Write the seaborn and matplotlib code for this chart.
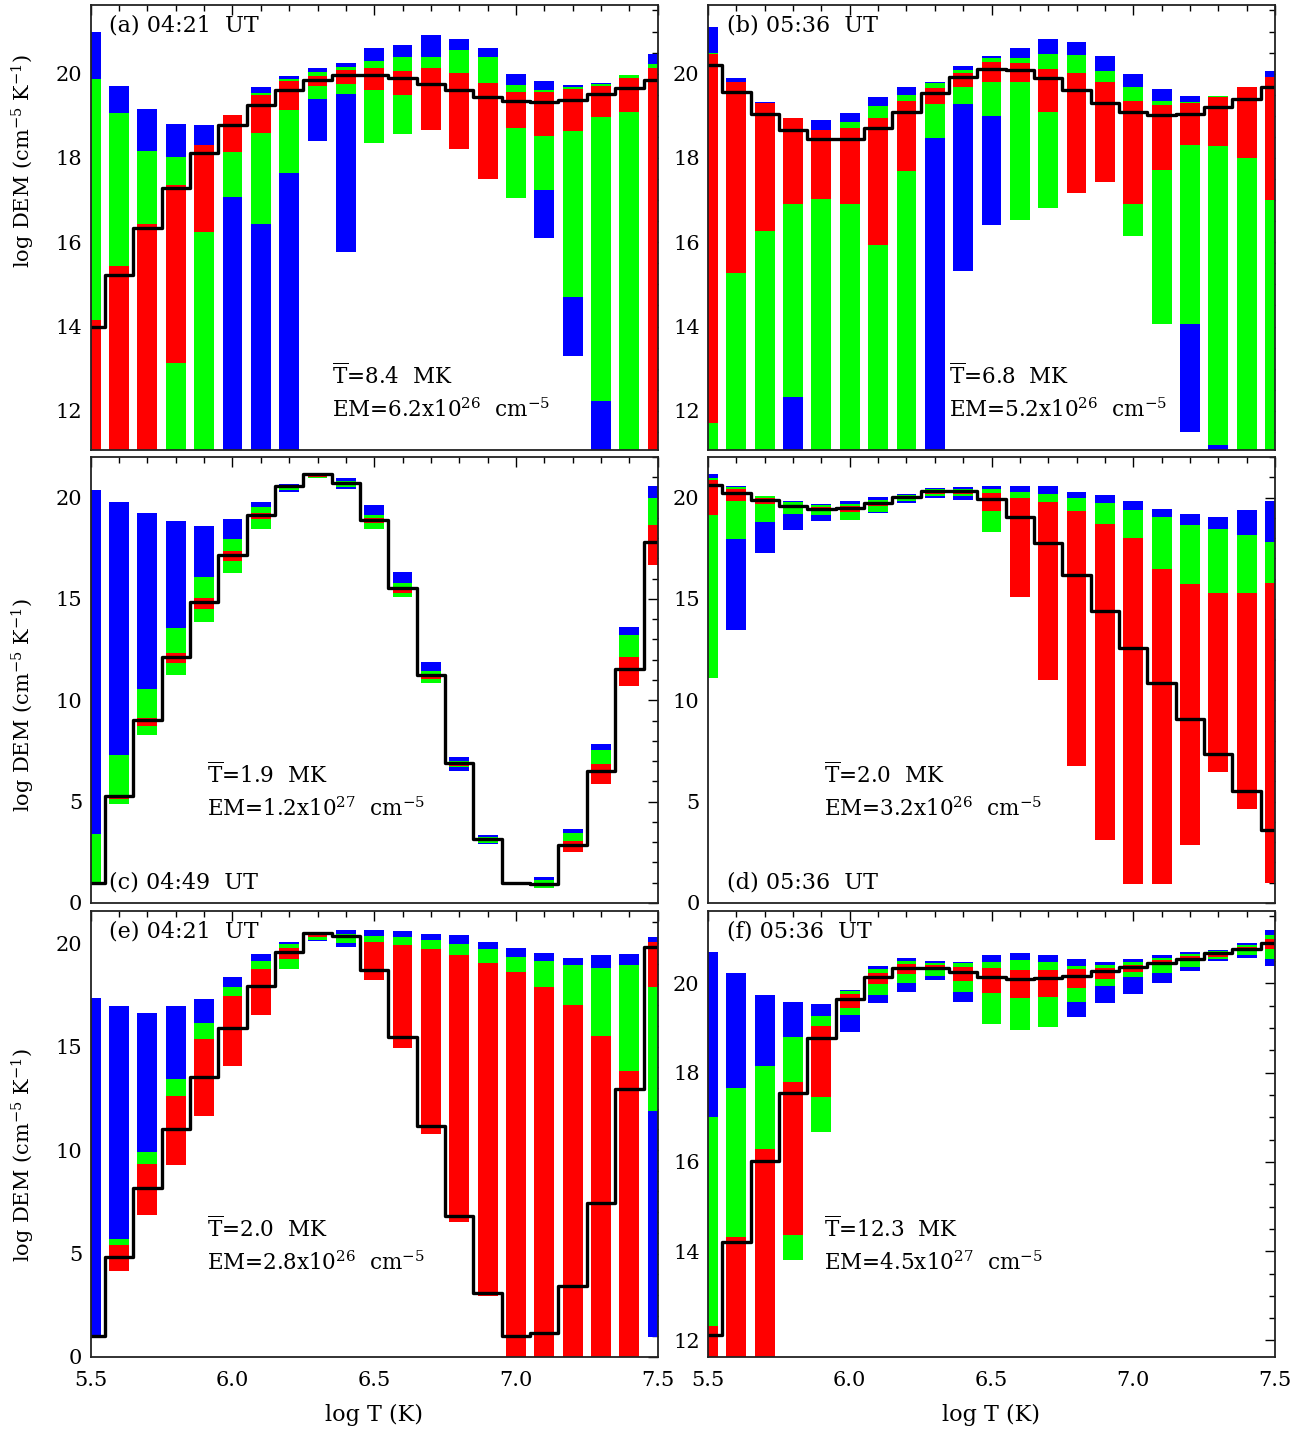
import numpy as np
import matplotlib
matplotlib.use("Agg")
import matplotlib.pyplot as plt
from matplotlib.ticker import MultipleLocator
import seaborn as sns

# temperature bins (log T)
LOG_T = [5.5, 5.6, 5.7, 5.8, 5.9, 6.0, 6.1, 6.2, 6.3, 6.4, 6.5,
         6.6, 6.7, 6.8, 6.9, 7.0, 7.1, 7.2, 7.3, 7.4, 7.5]

# (lo, hi) ranges of log DEM per bin; None = nothing drawn
# panel (a)
a_blue = [(10, 21.0), (10, 19.71), (10, 19.16), (10, 18.80), (10, 18.79), (10, 19.0), (10, 19.68),
          (10, 19.94), (18.41, 20.13), (15.76, 20.25), (18.35, 20.61), (18.58, 20.68), (18.67, 20.92),
          (18.22, 20.82), (17.49, 20.61), (17.04, 19.99), (16.09, 19.83), (13.30, 19.73), (10, 19.79),
          (10, 19.97), (10, 20.47)]
a_green = [(10, 19.88), (10, 19.07), (10, 18.17), (10, 18.03), (10, 18.30), (17.08, 19.0), (16.44, 19.55),
           (17.65, 19.88), (19.40, 20.04), (19.52, 20.16), (18.35, 20.30), (18.58, 20.39), (18.67, 20.39),
           (18.22, 20.56), (17.49, 20.39), (17.04, 19.73), (17.25, 19.61), (14.69, 19.68), (12.23, 19.75),
           (10, 19.97), (10, 20.24)]
a_red = [(10, 14.15), (10, 15.44), (10, 16.44), (13.13, 17.37), (16.24, 18.31), (18.15, 19.01), (18.60, 19.50),
         (19.14, 19.83), (19.70, 19.94), (19.76, 20.09), (19.61, 20.13), (19.50, 20.06), (18.67, 20.13),
         (18.22, 20.02), (17.49, 19.78), (18.71, 19.57), (18.52, 19.57), (18.64, 19.64), (18.97, 19.71),
         (19.09, 19.90), (10, 20.13)]
a_fit = [13.99, 15.23, 16.33, 17.29, 18.11, 18.78, 19.26, 19.62, 19.85, 19.97, 19.97,
         19.89, 19.76, 19.61, 19.45, 19.35, 19.34, 19.38, 19.51, 19.66, 19.86]

# panel (b)
b_blue = [(10, 21.10), (10, 19.90), (10, 19.32), (10, 18.95), (10, 18.90), (10, 19.07), (10, 19.45),
          (10, 19.68), (10, 19.80), (15.31, 20.18), (16.40, 20.42), (16.52, 20.61), (16.82, 20.82),
          (17.18, 20.75), (17.42, 20.42), (16.14, 19.99), (14.07, 19.64), (11.50, 19.47), (10, 19.47),
          (10, 19.68), (10, 20.06)]
b_green = [(10, 20.50), (10, 19.80), (10, 19.30), (12.33, 18.95), (10, 18.67), (10, 18.86), (10, 19.23),
           (10, 19.50), (18.48, 19.78), (19.28, 20.09), (19.0, 20.37), (16.52, 20.37), (16.82, 20.47),
           (17.18, 20.44), (17.42, 20.06), (16.14, 19.68), (14.07, 19.35), (14.07, 19.33), (11.19, 19.47),
           (10, 19.68), (10, 19.92)]
b_red = [(11.72, 20.46), (15.27, 19.80), (16.26, 19.31), (16.90, 18.95), (17.03, 18.67), (16.90, 18.71),
         (15.94, 18.95), (17.70, 19.35), (19.28, 19.66), (19.68, 20.02), (19.80, 20.28), (19.80, 20.25),
         (19.09, 20.11), (17.18, 20.02), (17.42, 19.80), (16.90, 19.35), (17.72, 19.26), (18.31, 19.31),
         (18.29, 19.45), (18.0, 19.68), (17.01, 19.92)]
b_fit = [20.20, 19.57, 19.04, 18.67, 18.45, 18.45, 18.70, 19.08, 19.53, 19.91, 20.11,
         20.09, 19.90, 19.61, 19.30, 19.09, 19.01, 19.05, 19.20, 19.41, 19.68]

# panel (c)
c_blue = [(1.04, 20.38), (4.90, 19.79), (8.27, 19.24), (11.24, 18.84), (13.86, 18.60), (16.27, 18.94),
          (18.45, 19.79), (20.28, 20.68), (20.95, 21.12), (20.43, 20.97), (18.45, 19.64), (15.08, 16.32),
          (10.84, 11.88), (6.53, 7.21), (2.90, 3.35), None, (0.76, 1.27), (2.52, 3.65), (5.89, 7.85),
          (10.69, 13.60), (16.68, 20.58)]
c_green = [(1.04, 3.40), (4.90, 7.31), (8.27, 10.58), (11.24, 13.55), (13.86, 16.07), (16.27, 17.95),
           (18.45, 19.54), (20.38, 20.63), (20.97, 21.08), (20.53, 20.84), (18.45, 19.14), (15.08, 15.78),
           (10.84, 11.44), (6.70, 7.01), (2.97, 3.25), None, (0.76, 1.12), (2.52, 3.47), (5.89, 7.56),
           (10.69, 13.22), (16.68, 19.98)]
c_red = [None, (5.15, 5.30), (8.75, 9.14), (11.82, 12.31), (14.49, 15.03), (16.86, 17.36), (18.94, 19.24),
         (20.48, 20.58), (20.99, 21.06), (20.66, 20.76), (18.75, 18.99), (15.28, 15.58), (11.04, 11.24),
         (6.77, 6.90), (3.05, 3.15), None, (0.85, 1.00), (2.52, 3.07), (5.89, 6.86), (10.69, 12.13),
         (16.68, 18.65)]
c_fit = [0.99, 5.30, 9.01, 12.15, 14.87, 17.19, 19.14, 20.58, 21.17, 20.74, 18.89,
         15.54, 11.24, 6.90, 3.18, 0.97, 0.92, 2.87, 6.50, 11.52, 17.79]

# panel (d)
d_blue = [(11.09, 21.17), (13.45, 20.55), (17.26, 20.10), (18.40, 19.81), (18.84, 19.69), (18.89, 19.83),
          (19.24, 20.03), (19.74, 20.18), (19.98, 20.45), (19.88, 20.53), (18.30, 20.58), (15.10, 20.58),
          (11.01, 20.58), (6.75, 20.28), (3.12, 20.13), (0.94, 19.83), (0.94, 19.44), (2.87, 19.19),
          (6.45, 19.04), (4.65, 19.39), (0.97, 19.83)]
d_green = [(11.09, 20.95), (17.95, 20.53), (18.80, 20.08), (19.19, 19.79), (19.14, 19.62), (18.89, 19.69),
           (19.29, 19.88), (19.83, 20.14), (20.10, 20.43), (20.08, 20.40), (18.30, 20.43), (15.10, 20.28),
           (11.01, 20.18), (6.75, 19.98), (3.12, 19.74), (0.94, 19.39), (0.94, 19.04), (2.87, 18.65),
           (6.45, 18.45), (4.65, 18.15), (0.97, 17.81)]
d_red = [(19.14, 20.87), (19.83, 20.43), (19.69, 19.98), (19.50, 19.64), (19.39, 19.54), (19.29, 19.59),
         (19.59, 19.79), (19.93, 20.05), (20.18, 20.31), (20.18, 20.31), (19.34, 20.23), (15.10, 19.98),
         (11.01, 19.79), (6.75, 19.34), (3.12, 18.70), (0.94, 18.00), (0.94, 16.47), (2.87, 15.73),
         (6.45, 15.28), (4.65, 15.28), (0.97, 15.78)]
d_fit = [20.63, 20.23, 19.88, 19.59, 19.44, 19.49, 19.74, 20.03, 20.31, 20.33, 19.93,
         19.06, 17.76, 16.17, 14.41, 12.57, 10.83, 9.09, 7.33, 5.51, 3.61]

# panel (e)
e_blue = [(1.01, 17.33), (4.14, 16.94), (6.84, 16.60), (9.26, 16.94), (11.63, 17.28), (14.04, 18.34),
          (16.52, 19.45), (18.73, 20.03), (20.08, 20.55), (19.79, 20.61), (18.20, 20.61), (14.91, 20.56),
          (10.76, 20.42), (6.52, 20.37), (2.95, 20.03), (-1, 19.74), (-1, 19.50), (-1, 19.26), (-1, 19.40),
          (-1, 19.45), (0.97, 20.27)]
e_green = [None, (4.14, 5.68), (6.84, 9.89), (9.26, 13.41), (11.63, 16.12), (14.04, 17.86), (16.52, 19.11),
           (18.73, 19.94), (20.15, 20.50), (19.98, 20.45), (18.20, 20.32), (14.91, 20.27), (10.76, 20.13),
           (6.52, 19.94), (2.95, 19.69), (-1, 19.31), (-1, 19.11), (-1, 18.92), (-1, 18.78), (-1, 18.92),
           (11.87, 20.03)]
e_red = [None, (4.14, 5.39), (6.84, 9.31), (9.26, 12.59), (11.63, 15.35), (14.04, 17.42), (16.52, 18.73),
         (19.21, 19.74), (20.30, 20.48), None, (18.20, 20.03), (14.91, 19.89), (10.76, 19.69), (6.52, 19.40),
         (2.95, 19.02), (-1, 18.58), (-1, 17.86), (-1, 16.99), (-1, 15.49), (-1, 13.80), (17.86, 20.03)]
e_fit = [1.01, 4.85, 8.15, 11.01, 13.54, 15.88, 17.95, 19.57, 20.48, 20.34, 18.71,
         15.44, 11.16, 6.80, 3.11, 1.01, 1.16, 3.43, 7.46, 12.96, 19.81]

# panel (f)
f_blue = [(10, 20.70), (10, 20.23), (10, 19.74), (13.81, 19.58), (16.66, 19.54), (18.91, 19.85),
          (19.56, 20.39), (19.81, 20.57), (20.07, 20.50), (19.58, 20.48), (19.10, 20.63), (18.96, 20.68),
          (19.03, 20.63), (19.25, 20.54), (19.56, 20.48), (19.76, 20.54), (20.01, 20.63), (20.28, 20.70),
          (20.50, 20.75), (20.57, 20.90), (20.39, 21.19)]
f_green = [(10, 17.01), (10, 17.66), (10, 18.15), (13.81, 18.80), (16.66, 19.27), (19.29, 19.83),
           (19.74, 20.32), (20.01, 20.50), (20.16, 20.46), (19.81, 20.45), (19.10, 20.48), (18.96, 20.52),
           (19.03, 20.48), (19.58, 20.39), (19.94, 20.41), (20.14, 20.48), (20.23, 20.57), (20.37, 20.66),
           (20.55, 20.72), (20.63, 20.86), (20.54, 21.08)]
f_red = [(10, 12.33), (10, 14.32), (10, 16.29), (14.37, 17.79), (17.46, 19.04), (19.45, 19.76),
         (19.99, 20.23), (20.21, 20.43), (20.30, 20.42), (20.05, 20.37), (19.78, 20.34), (19.67, 20.30),
         (19.69, 20.30), (19.90, 20.32), (20.10, 20.34), (20.25, 20.41), (20.41, 20.52), (20.50, 20.61),
         (20.60, 20.68), (20.75, 20.81), (20.77, 20.99)]
f_fit = [12.12, 14.21, 16.01, 17.55, 18.78, 19.65, 20.14, 20.34, 20.34, 20.26, 20.14,
         20.10, 20.12, 20.17, 20.28, 20.37, 20.46, 20.55, 20.68, 20.78, 20.91]

tags = ["(a) 04:21  UT", "(b) 05:36  UT", "(c) 04:49  UT", "(d) 05:36  UT", "(e) 04:21  UT", "(f) 05:36  UT"]
tbar = ["8.4", "6.8", "1.9", "2.0", "2.0", "12.3"]
em_mant = ["6.2", "5.2", "1.2", "3.2", "2.8", "4.5"]
em_exp = ["26", "26", "27", "26", "26", "27"]


def draw_panel(ax, blue, green, red, fit):
    for ranges, color in ((blue, "#0000ff"), (green, "#00ff00"), (red, "#ff0000")):
        xs = [t for t, r in zip(LOG_T, ranges) if r is not None]
        lo = np.array([r[0] for r in ranges if r is not None])
        hi = np.array([r[1] for r in ranges if r is not None])
        ax.bar(xs, hi - lo, bottom=lo, width=0.07, color=color, linewidth=0)
    sns.lineplot(x=LOG_T, y=fit, drawstyle="steps-mid", color="black", lw=2.4, ax=ax)


def main():
    sns.set_style("white")
    plt.rcParams["font.family"] = ["DejaVu Serif"]
    plt.rcParams["mathtext.fontset"] = "dejavuserif"
    for key in ("text.color", "axes.labelcolor", "xtick.color", "ytick.color"):
        plt.rcParams[key] = "black"

    fig = plt.figure(figsize=(13.14, 14.31), dpi=100)
    W, H = 1314.0, 1431.0
    cols = [90.7, 708.0]
    rows = [(5, 450), (457, 903), (911, 1357)]
    ylab_pos = [0.65, 0.445, 0.453]
    panels = [(a_blue, a_green, a_red, a_fit), (b_blue, b_green, b_red, b_fit),
              (c_blue, c_green, c_red, c_fit), (d_blue, d_green, d_red, d_fit),
              (e_blue, e_green, e_red, e_fit), (f_blue, f_green, f_red, f_fit)]
    ylims = [(11.07, 21.63), (11.07, 21.63), (0, 22), (0, 22), (0, 21.55), (11.63, 21.62)]
    steps = [(2, 0.5), (2, 0.5), (5, 1), (5, 1), (5, 1), (2, 0.5)]

    for i, data in enumerate(panels):
        r, c = divmod(i, 2)
        top, bot = rows[r]
        ax = fig.add_axes([cols[c] / W, 1 - bot / H, 567 / W, (bot - top) / H])
        draw_panel(ax, *data)
        ax.set_xlim(5.5, 7.5)
        ax.set_ylim(*ylims[i])
        ax.xaxis.set_major_locator(MultipleLocator(0.5))
        ax.xaxis.set_minor_locator(MultipleLocator(0.1))
        ax.yaxis.set_major_locator(MultipleLocator(steps[i][0]))
        ax.yaxis.set_minor_locator(MultipleLocator(steps[i][1]))
        ax.tick_params(which="both", direction="in", top=True, right=True, colors="black",
                       labelsize=15, width=1)
        ax.tick_params(which="major", length=7)
        ax.tick_params(which="minor", length=4)
        ax.tick_params(axis="x", pad=10)
        ax.tick_params(axis="y", pad=6)
        ax.xaxis.set_major_formatter(plt.FormatStrFormatter("%.1f"))
        for s in ax.spines.values():
            s.set_linewidth(1.3)
            s.set_color("#222222")
        if r < 2:
            ax.set_xticklabels([])
        else:
            ax.set_xlabel("log T (K)", fontsize=16)
            ax.xaxis.set_label_coords(0.5, -0.105)
        if c == 0:
            ax.set_ylabel("log DEM (cm$^{-5}$ K$^{-1}$)", fontsize=15)
            ax.yaxis.set_label_coords(-0.095, ylab_pos[r])
        else:
            ax.set_ylabel("")

        ty = 0.045 if r == 1 else 0.955
        ax.text(0.033, ty, tags[i], transform=ax.transAxes, fontsize=16, va="center", ha="left")
        if r == 0:
            tx, y1, y2 = 0.425, 0.166, 0.09
        else:
            tx, y1, y2 = 0.205, 0.286, 0.21
        ax.text(tx, y1, r"$\overline{\mathrm{T}}$=" + tbar[i] + "  MK", transform=ax.transAxes,
                fontsize=15.5, va="center", ha="left")
        ax.text(tx, y2, "EM=" + em_mant[i] + "x10$^{" + em_exp[i] + "}$  cm$^{-5}$",
                transform=ax.transAxes, fontsize=15.5, va="center", ha="left")

    fig.savefig("out.png", dpi=100)


if __name__ == "__main__":
    main()
